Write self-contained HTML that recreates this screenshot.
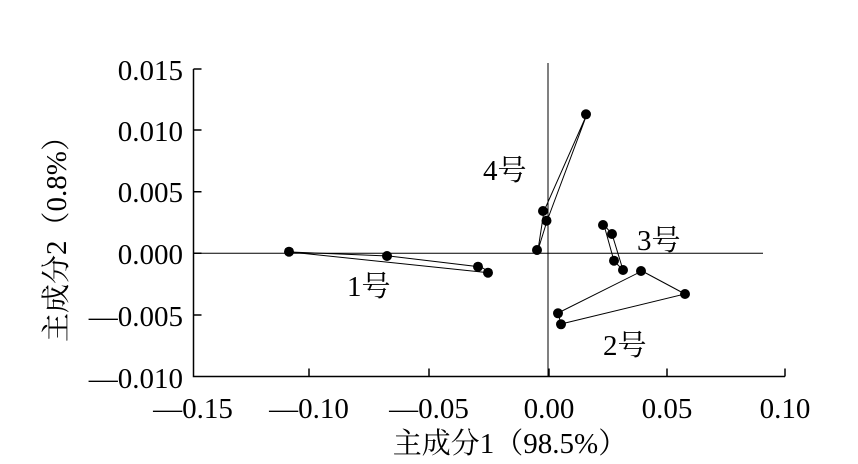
<!DOCTYPE html><html><head><style>body{margin:0;background:#fff}svg{display:block}text{font-family:"Liberation Serif","Noto Serif CJK SC",serif;fill:#000}</style></head><body>
<svg width="858" height="464" viewBox="0 0 858 464">
<g stroke="#000" stroke-width="1.5" fill="none">
<path d="M193.5,69V376.5H785"/>
<path d="M193.5,69h8M193.5,130h8M193.5,191.7h8M193.5,253.3h8M193.5,315h8"/>
<path d="M309,376.5v-8M429,376.5v-8M549,376.5v-8M667,376.5v-8M785,376.5v-8"/>
</g>
<g stroke="#000" stroke-width="1" fill="none">
<path d="M193.5,253.3H763M548,63V376"/>
<polygon points="290,252 389,256 481,267 491,273"/>
<polygon points="538,250 544,211 587,114 547,221"/>
<polygon points="604,225 614,261 623,270 612,234"/>
<polygon points="558,313 642,271 685,294 561,324"/>
</g>
<g fill="#000">
<circle cx="289" cy="251.7" r="5"/><circle cx="387" cy="256" r="5"/><circle cx="478" cy="266.7" r="5"/><circle cx="488" cy="272.7" r="5"/>
<circle cx="537" cy="250" r="5"/><circle cx="543" cy="211" r="5"/><circle cx="546.5" cy="220.7" r="5"/><circle cx="586" cy="114.3" r="5"/>
<circle cx="603" cy="225" r="5"/><circle cx="612" cy="234" r="5"/><circle cx="614" cy="260.7" r="5"/><circle cx="623" cy="270" r="5"/>
<circle cx="641" cy="271" r="5"/><circle cx="685" cy="294" r="5"/><circle cx="558" cy="313.3" r="5"/><circle cx="561" cy="324.3" r="5"/>
</g>
<g font-size="29" text-anchor="end">
<text x="183" y="80">0.015</text><text x="183" y="141">0.010</text><text x="183" y="202">0.005</text><text x="183" y="264">0.000</text><text x="183" y="326">—0.005</text><text x="183" y="388">—0.010</text>
</g>
<g font-size="29" text-anchor="middle">
<text x="193" y="418">—0.15</text><text x="309" y="418">—0.10</text><text x="429" y="418">—0.05</text><text x="549" y="418">0.00</text><text x="667" y="418">0.05</text><text x="785" y="418">0.10</text>
<text x="510" y="453">主成分1（98.5%）</text>
<text transform="translate(66,232) rotate(-90)">主成分2（0.8%）</text>
</g>
<g font-size="29">
<text x="483" y="180">4号</text><text x="637" y="250">3号</text><text x="347" y="296">1号</text><text x="603" y="355">2号</text>
</g>
</svg></body></html>
